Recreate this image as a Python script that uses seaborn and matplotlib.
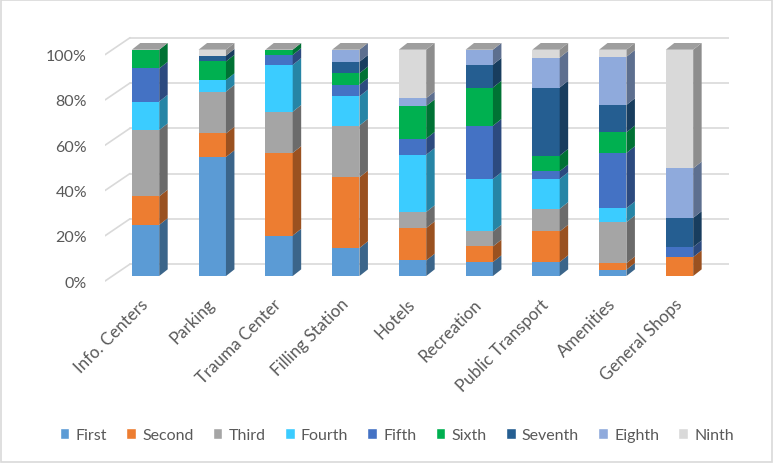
import numpy as np
import pandas as pd
import seaborn as sns
import matplotlib.pyplot as plt
from matplotlib.patches import Polygon, Rectangle
from matplotlib.colors import to_rgb

# data (percent share per category)
categories = ['Info. Centers', 'Parking', 'Trauma Center', 'Filling Station', 'Hotels',
              'Recreation', 'Public Transport', 'Amenities', 'General Shops']
series = ['First', 'Second', 'Third', 'Fourth', 'Fifth', 'Sixth', 'Seventh', 'Eighth', 'Ninth']

first   = [22.6, 52.6, 17.9, 12.4,  6.9,  6.2,  6.2,  2.8,  0.0]
second  = [12.6, 10.4, 36.5, 31.2, 14.3,  6.9, 13.5,  2.9,  8.4]
third   = [29.3, 18.5, 18.2, 22.9,  7.1,  6.6, 10.0, 18.1,  0.0]
fourth  = [12.6,  5.1, 20.7, 12.9, 25.3, 23.2, 13.2,  6.2,  0.0]
fifth   = [14.6,  0.0,  4.4,  5.1,  7.1, 23.5,  3.4, 24.4,  4.4]
sixth   = [ 8.3,  8.2,  2.3,  5.1, 14.4, 16.9,  6.9,  9.1,  0.0]
seventh = [ 0.0,  2.6,  0.0,  5.1,  0.0, 10.1, 30.1, 12.1, 12.9]
eighth  = [ 0.0,  0.0,  0.0,  5.3,  3.5,  6.6, 13.2, 21.3, 21.9]
ninth   = [ 0.0,  2.6,  0.0,  0.0, 21.4,  0.0,  3.5,  3.1, 52.4]

colors = ['#5B9BD5', '#ED7D31', '#A5A5A5', '#3BCCFF', '#4472C4',
          '#00B050', '#255E91', '#8FAADC', '#D9D9D9']

df = pd.DataFrame({'category': categories, 'First': first, 'Second': second,
                   'Third': third, 'Fourth': fourth, 'Fifth': fifth, 'Sixth': sixth,
                   'Seventh': seventh, 'Eighth': eighth, 'Ninth': ninth})

sns.set_style('white')
plt.rcParams['font.family'] = ['Lato', 'DejaVu Sans']
text_col = '#595959'

fig = plt.figure(figsize=(7.75, 4.64), dpi=100)
ax = fig.add_axes([0.1355, 0.3907, 0.805, 0.5293])

bar_w = 0.41
dx, dy = 0.127, 2.96   # depth of the fake 3d faces

bottom = np.zeros(len(categories))
for name, col in zip(series, colors):
    sns.barplot(data=df, x='category', y=name, color=col, saturation=1,
                bottom=bottom, width=bar_w, errorbar=None, ax=ax,
                linewidth=0, zorder=3)
    side = tuple(c * 0.65 for c in to_rgb(col))
    for p in ax.containers[-1].patches:
        h = p.get_height()
        if h <= 0:
            continue
        x1 = p.get_x() + p.get_width()
        y0 = p.get_y()
        ax.add_patch(Polygon([(x1, y0), (x1 + dx, y0 + dy), (x1 + dx, y0 + h + dy), (x1, y0 + h)],
                             closed=True, facecolor=side, edgecolor='none', zorder=3))
    bottom = bottom + df[name].to_numpy()

# top faces
for p, tot in zip(ax.containers[0].patches, bottom):
    x0 = p.get_x()
    x1 = x0 + p.get_width()
    ax.add_patch(Polygon([(x0, tot), (x0 + dx, tot + dy), (x1 + dx, tot + dy), (x1, tot)],
                         closed=True, facecolor='#9e9e9e', edgecolor='none', zorder=3))

# back wall grid + floor diagonals
xmin, xmax = -0.607, 8.74
x_back = -0.232
ticks = [0, 20, 40, 60, 80, 100]
for t in ticks:
    ax.plot([x_back, xmax], [t + 5.3, t + 5.3], color='#d9d9d9', lw=1.2, zorder=0)
    ax.plot([xmin, x_back], [t - 2.2, t + 5.3], color='#d9d9d9', lw=1.2, zorder=0)

ax.set_xlim(xmin, xmax)
ax.set_ylim(-2.5, 106)
ax.set_yticks([t - 2.2 for t in ticks])
ax.set_yticklabels([f'{t}%' for t in ticks], fontsize=11.5, color=text_col)
ax.tick_params(axis='y', length=0, pad=13)
ax.set_xticks(range(len(categories)))
ax.set_xticklabels(categories, rotation=45, ha='right', va='center',
                   rotation_mode='anchor', fontsize=12.2, color=text_col)
ax.tick_params(axis='x', length=0, pad=14)
ax.set_xlabel('')
ax.set_ylabel('')
sns.despine(ax=ax, left=True, bottom=True)
if ax.get_legend() is not None:
    ax.get_legend().remove()

handles = [Rectangle((0, 0), 1, 1, facecolor=c) for c in colors]
leg = fig.legend(handles, series, loc='center', bbox_to_anchor=(0.512, 0.06), ncol=9,
                 frameon=False, fontsize=11.5, handlelength=0.6, handleheight=0.6,
                 handletextpad=0.4, columnspacing=1.2)
for txt in leg.get_texts():
    txt.set_color(text_col)

fig.patches.append(Rectangle((0.001, 0.002), 0.995, 0.995, transform=fig.transFigure,
                             fill=False, edgecolor='#d9d9d9', lw=1.2))

fig.savefig('out.png', dpi=100)
